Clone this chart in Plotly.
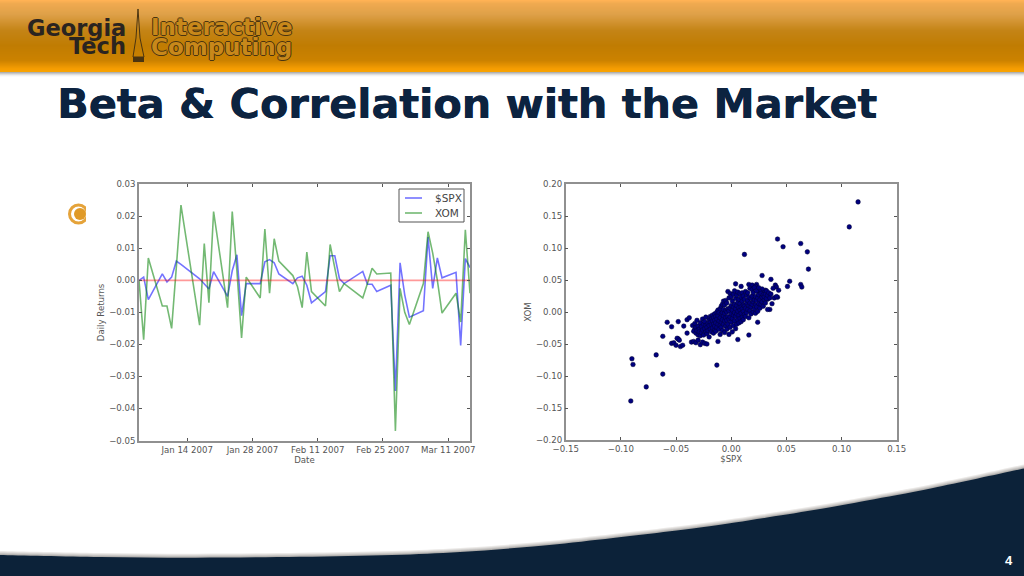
import plotly.graph_objects as go

# ---- line chart data ----
DATES = ["01-03","01-04","01-05","01-08","01-09","01-10","01-11","01-12","01-16","01-17",
         "01-18","01-19","01-22","01-23","01-24","01-25","01-26","01-29","01-30","01-31",
         "02-01","02-02","02-05","02-06","02-07","02-08","02-09","02-12","02-13","02-14",
         "02-15","02-16","02-20","02-21","02-22","02-23","02-26","02-27","02-28","03-01",
         "03-02","03-05","03-06","03-07","03-08","03-09","03-12","03-13","03-14","03-15"]
SPX = [0.0,0.001,-0.006,0.002,-0.0005,0.001,0.006,0.005,0.0005,-0.001,
       -0.0027,0.0027,-0.005,0.003,0.008,-0.011,-0.001,-0.001,0.0058,0.0065,
       0.0055,0.002,-0.001,0.0008,0.0013,-0.0015,-0.007,-0.0035,0.0077,0.0077,
       0.0005,-0.001,0.0028,-0.0012,-0.0012,-0.0035,-0.0015,-0.0345,0.0055,-0.0045,
       -0.0115,-0.0095,0.0135,-0.0025,0.007,0.0008,0.0025,-0.0203,0.0068,0.004]
XOM = [0.0,-0.0185,0.007,-0.008,-0.008,-0.015,0.004,0.0235,-0.014,0.0115,
       -0.007,0.0215,-0.0085,0.0215,0.003,-0.018,0.001,-0.0055,0.016,-0.004,
       0.013,0.006,0.0015,-0.002,-0.0085,0.0088,-0.0035,-0.008,0.0112,0.0035,
       -0.0035,-0.001,-0.0055,-0.001,0.0038,0.002,0.0023,-0.047,-0.0025,-0.01,
       -0.0138,-0.001,0.0152,0.0085,0.0,-0.0102,-0.004,-0.013,0.0158,-0.004]
ZERO = [0.0, 0.0]
DATE_TICKS = ["2007-01-14","2007-01-28","2007-02-11","2007-02-25","2007-03-11"]
DATE_LABELS = ["Jan 14 2007","Jan 28 2007","Feb 11 2007","Feb 25 2007","Mar 11 2007"]
LINE_YTICKS = [0.03,0.02,0.01,0.0,-0.01,-0.02,-0.03,-0.04,-0.05]

# ---- scatter data ----
SCATTER_SPX = [
 .115,.107,.042,.047,.063,.069,.070,.012,.053,.051,.063,.064,
 .028,.036,.004,.009,.016,.019,.023,.022,.040,.041,.038,.043,
 .042,.039,.041,.037,.035,.033,.031,.030,.033,.028,.026,.025,
 -.091,-.077,-.090,-.089,-.068,-.062,-.013,-.062,-.058,-.054,-.048,-.043,
 -.040,-.038,-.054,-.052,-.050,-.048,-.046,-.044,-.049,-.047,-.040,-.036,
 .006,.016,.024,-.034,-.032,-.030,-.028,-.026,-.024,-.022,-.035,-.033,
 -.034,-.033,-.032,-.032,-.031,-.031,-.030,-.030,-.029,-.029,-.028,-.028,
 -.027,-.027,-.026,-.026,-.025,-.025,-.024,-.024,-.023,-.023,-.023,-.022,
 -.022,-.021,-.021,-.020,-.020,-.020,-.019,-.019,-.019,-.018,-.018,-.018,
 -.017,-.017,-.017,-.016,-.016,-.016,-.015,-.015,-.015,-.015,-.014,-.014,
 -.014,-.013,-.013,-.013,-.012,-.012,-.012,-.012,-.011,-.011,-.011,-.010,
 -.010,-.010,-.010,-.009,-.009,-.009,-.009,-.008,-.008,-.008,-.008,-.007,
 -.007,-.007,-.007,-.006,-.006,-.006,-.006,-.005,-.005,-.005,-.005,-.004,
 -.004,-.004,-.004,-.003,-.003,-.003,-.003,-.002,-.002,-.002,-.002,-.001,
 -.001,-.001,-.001,.000,.000,.000,.000,.001,.001,.001,.001,.002,
 .002,.002,.002,.003,.003,.003,.003,.004,.004,.004,.004,.005,
 .005,.005,.005,.006,.006,.006,.006,.007,.007,.007,.007,.008,
 .008,.008,.008,.009,.009,.009,.009,.010,.010,.010,.010,.011,
 .011,.011,.011,.012,.012,.012,.013,.013,.013,.014,.014,.014,
 .015,.015,.015,.016,.016,.016,.017,.017,.017,.018,.018,.018,
 .019,.019,.019,.020,.020,.020,.021,.021,.021,.022,.022,.022,
 .023,.023,.023,.024,.024,.025,.025,.025,.026,.026,.027,.027,
 .028,.028,.029,.029,.030,.030,.031,.031,.032,.032,.033,.034,
 .035,.036]
SCATTER_XOM = [
 .172,.133,.114,.102,.107,.094,.067,.090,.048,.040,.043,.039,
 .057,.051,.044,.040,.043,.042,.043,.040,.042,.039,.037,.034,
 .023,.022,.024,.013,.004,.004,.034,.031,.020,.036,.032,.028,
 -.139,-.117,-.073,-.082,-.067,-.097,-.083,-.038,-.016,-.023,-.015,-.022,
 -.012,-.009,-.049,-.048,-.052,-.042,-.054,-.052,-.041,-.044,-.033,-.047,
 -.043,-.036,-.016,-.046,-.048,-.044,-.051,-.047,-.049,-.050,-.021,-.027,
 -.030,-.018,-.033,-.024,-.029,-.013,-.036,-.022,-.027,-.031,-.017,-.037,
 -.023,-.032,-.011,-.028,-.036,-.019,-.026,-.015,-.031,-.008,-.021,-.034,
 -.024,-.018,-.029,-.012,-.021,-.039,-.027,-.007,-.016,-.031,-.020,-.011,
 -.025,-.014,-.005,-.033,-.019,-.009,-.028,-.013,-.003,-.022,-.017,-.007,
 -.030,-.024,-.011,.000,-.046,-.019,-.006,.003,-.027,-.014,-.001,-.021,
 -.009,.005,-.035,-.016,-.003,.009,-.024,-.012,-.029,-.001,.012,-.019,
 -.006,.004,.017,-.032,-.014,-.002,.011,-.022,-.009,.002,.018,-.027,
 -.013,.000,.014,-.019,-.007,.005,.032,-.035,-.011,.002,.022,-.024,
 -.008,.006,.029,-.016,-.003,.010,.024,-.031,-.010,.003,.017,-.021,
 -.005,.008,.028,-.014,-.001,.012,.033,-.026,-.007,.005,.021,-.019,
 -.003,.010,.026,-.012,.001,.015,.031,-.017,-.005,.007,.020,-.010,
 .003,.013,.029,-.015,-.002,.008,.023,-.008,.005,.017,.030,-.012,
 .001,.011,.025,-.004,.009,.020,-.007,.006,.032,-.001,.014,.027,
 .004,.018,.030,-.009,.010,.023,.002,.014,.037,-.003,.008,.021,
 .012,.025,.035,.000,.016,.030,.005,.019,.038,-.002,.011,.024,
 .008,.018,.033,.001,.022,.013,.027,.038,.006,.019,.012,.029,
 .016,.023,.009,.027,.019,.024,.014,.028,.021,.033,.026,.030,
 .022,.028]
SCATTER_XTICKS = [-0.15,-0.10,-0.05,0.0,0.05,0.10,0.15]
SCATTER_YTICKS = [0.20,0.15,0.10,0.05,0.0,-0.05,-0.10,-0.15,-0.20]
LEGEND_LABELS = ["$SPX", "XOM"]

TITLE = "Beta &amp; Correlation with the Market"
PAGE = "4"

W, H = 1024, 576
NAVY = "#0c2239"
PLOTFONT = dict(family="DejaVu Sans", size=8.6, color="#555555")
AXIS = "#909090"
OUTLINE = "#4a3410"
SPX_COLOR = "rgba(0,0,255,0.55)"
XOM_COLOR = "rgba(0,128,0,0.55)"


def px(x):
    return x / W


def py(y):
    return 1 - y / H


def rect(x0, y0, x1, y1, color, layer="below"):
    return dict(type="rect", xref="paper", yref="paper", layer=layer,
                x0=px(x0), x1=px(x1), y0=py(y0), y1=py(y1),
                fillcolor=color, line=dict(width=0))


def pathstr(points, close=True):
    s = "M " + " L ".join("%.5f,%.5f" % (px(a), py(b)) for a, b in points)
    return s + (" Z" if close else "")


def smooth(points):
    """Catmull-Rom through the read points, written as an SVG cubic path."""
    s = "M %.5f,%.5f" % (px(points[0][0]), py(points[0][1]))
    for i in range(len(points) - 1):
        p0 = points[max(i - 1, 0)]
        p1 = points[i]
        p2 = points[i + 1]
        p3 = points[min(i + 2, len(points) - 1)]
        c1 = (p1[0] + (p2[0] - p0[0]) / 6, p1[1] + (p2[1] - p0[1]) / 6)
        c2 = (p2[0] - (p3[0] - p1[0]) / 6, p2[1] - (p3[1] - p1[1]) / 6)
        s += " C %.5f,%.5f %.5f,%.5f %.5f,%.5f" % (px(c1[0]), py(c1[1]), px(c2[0]), py(c2[1]),
                                                   px(p2[0]), py(p2[1]))
    return s


shapes = []
# header gradient, one thin band per row
STOPS = [(0, (255, 178, 84)), (3, (240, 170, 80)), (14, (222, 160, 72)), (30, (196, 132, 22)),
         (45, (192, 124, 2)), (60, (204, 130, 0)), (68, (244, 156, 2)), (72, (250, 165, 0))]
for i in range(72):
    for (a, ca), (b, cb) in zip(STOPS, STOPS[1:]):
        if a <= i < b:
            t = (i - a) / (b - a)
            c = tuple(round(u + (v - u) * t) for u, v in zip(ca, cb))
            shapes.append(rect(0, i, W, i + 1, "rgb(%d,%d,%d)" % c))
for i, g in enumerate([176, 200, 222, 240, 250]):
    shapes.append(rect(0, 72 + i, W, 73 + i, "rgb(%d,%d,%d)" % (g, g, g)))

# logo spire
shapes.append(dict(type="path", xref="paper", yref="paper", layer="below",
                   path=pathstr([(138, 9), (140, 38), (144, 57), (133, 57), (136, 38)]),
                   fillcolor="rgba(0,0,0,0)", line=dict(color=OUTLINE, width=1)))
shapes.append(rect(133, 57, 144, 62, OUTLINE))

# footer swoosh
CURVE_PTS = [(0, 555), (100, 557), (196, 557.7), (300, 556.8), (392, 555), (460, 552),
             (533, 546.5), (600, 539.5), (700, 527.5), (767, 517.5), (820, 509), (867, 500.5),
             (933, 488), (1024, 468.5)]
for off, g in [(-4, 236), (-3, 218), (-2, 198), (-1, 176), (0, None)]:
    pts = [(a, b + off) for a, b in CURVE_PTS]
    color = NAVY if g is None else "rgb(%d,%d,%d)" % (g, g - 2, g - 4)
    path = smooth(pts) + " L %.5f,%.5f L %.5f,%.5f Z" % (px(1024), py(580), px(0), py(580))
    shapes.append(dict(type="path", xref="paper", yref="paper", layer="below",
                       path=path, fillcolor=color, line=dict(width=0)))

# bullet, cut off by the pasted picture
shapes.append(dict(type="circle", xref="paper", yref="paper", layer="below",
                   x0=px(69.5), x1=px(87.5), y0=py(223), y1=py(205),
                   fillcolor="rgba(0,0,0,0)", line=dict(color="#e5a33a", width=3)))
shapes.append(dict(type="circle", xref="paper", yref="paper", layer="below",
                   x0=px(74), x1=px(86), y0=py(220), y1=py(208),
                   fillcolor="#e09a28", line=dict(width=0)))
shapes.append(rect(86, 190, 100, 240, "white"))

# legend box of the left plot
shapes.append(dict(type="rect", xref="paper", yref="paper", layer="above",
                   x0=px(399), x1=px(464), y0=py(222), y1=py(189),
                   fillcolor="white", line=dict(color="#555555", width=1)))
for yy, col in [(198, SPX_COLOR), (213, XOM_COLOR)]:
    shapes.append(dict(type="line", xref="paper", yref="paper", layer="above",
                       x0=px(405), x1=px(422), y0=py(yy), y1=py(yy),
                       line=dict(color=col, width=1.6)))

fig = go.Figure()
full_dates = ["2007-%s 16:00" % d for d in DATES]
fig.add_trace(go.Scatter(x=full_dates, y=SPX, name="$SPX", mode="lines",
                         line=dict(color=SPX_COLOR, width=1.6), xaxis="x", yaxis="y"))
fig.add_trace(go.Scatter(x=full_dates, y=XOM, name="XOM", mode="lines",
                         line=dict(color=XOM_COLOR, width=1.6), xaxis="x", yaxis="y"))
fig.add_trace(go.Scatter(x=[full_dates[0], full_dates[-1]], y=ZERO, mode="lines",
                         line=dict(color="rgba(255,0,0,0.4)", width=1.6), xaxis="x", yaxis="y"))
fig.add_trace(go.Scatter(x=SCATTER_SPX, y=SCATTER_XOM, mode="markers",
                         marker=dict(color="#00007f", size=4.6, line=dict(color="#000033", width=0.5)),
                         xaxis="x2", yaxis="y2"))

common = dict(showgrid=False, zeroline=False, ticks="inside", ticklen=3, tickcolor="#555555",
              mirror="allticks", showline=True, linecolor=AXIS, linewidth=1.5, automargin=False,
              tickfont=PLOTFONT, title_font=dict(family="DejaVu Sans", size=8.6, color="#555555"))

OUTLINED = "1px 0 0 #4a3410, -1px 0 0 #4a3410, 0 1px 0 #4a3410, 0 -1px 0 #4a3410"
annotations = [
    dict(text="<b>%s</b>" % TITLE, xref="paper", yref="paper", x=px(57), y=py(104),
         xanchor="left", yanchor="middle", showarrow=False, xshift=-2,
         font=dict(family="DejaVu Sans", size=41.4, color="#0c2340",
                   shadow="0.6px 0 0 #0c2340")),
    dict(text="<b>Georgia</b>", xref="paper", yref="paper", x=px(128), y=py(28),
         xanchor="right", yanchor="middle", showarrow=False,
         font=dict(family="DejaVu Sans", size=22.5, color="#2a2420")),
    dict(text="<b>Tech</b>", xref="paper", yref="paper", x=px(128), y=py(46),
         xanchor="right", yanchor="middle", showarrow=False,
         font=dict(family="DejaVu Sans", size=22.5, color="#2a2420")),
    dict(text="<b>Interactive</b>", xref="paper", yref="paper", x=px(149), y=py(27),
         xanchor="left", yanchor="middle", showarrow=False,
         font=dict(family="DejaVu Sans", size=23, color="#c8881a", shadow=OUTLINED)),
    dict(text="<b>Computing</b>", xref="paper", yref="paper", x=px(149), y=py(47),
         xanchor="left", yanchor="middle", showarrow=False,
         font=dict(family="DejaVu Sans", size=23, color="#c8881a", shadow=OUTLINED)),
    dict(text="<b>%s</b>" % PAGE, xref="paper", yref="paper", x=px(1009), y=py(560),
         xanchor="center", yanchor="middle", showarrow=False,
         font=dict(family="Liberation Sans", size=13, color="white")),
]
for yy, label in zip([198, 213], LEGEND_LABELS):
    annotations.append(dict(text=label, xref="paper", yref="paper", x=px(433), y=py(yy),
                            xanchor="left", yanchor="middle", showarrow=False,
                            font=dict(family="DejaVu Sans", size=10.5, color="#444444")))

fig.update_layout(
    width=W, height=H, autosize=False, margin=dict(l=0, r=0, t=0, b=0), showlegend=False,
    paper_bgcolor="white", plot_bgcolor="white", shapes=shapes, annotations=annotations,
    xaxis=dict(domain=[px(139), px(470)], anchor="y", type="date",
               range=[full_dates[0], full_dates[-1]], tickvals=DATE_TICKS, ticktext=DATE_LABELS,
               title=dict(text="Date", standoff=3), **common),
    yaxis=dict(domain=[py(440.5), py(184.3)], anchor="x", range=[-0.05, 0.03],
               tickvals=LINE_YTICKS, tickformat=".2f",
               title=dict(text="Daily Returns", standoff=3), **common),
    xaxis2=dict(domain=[px(565.7), px(896.7)], anchor="y2", range=[-0.15, 0.15],
                tickvals=SCATTER_XTICKS, tickformat=".2f",
                title=dict(text="$SPX", standoff=2), **common),
    yaxis2=dict(domain=[py(440), py(184)], anchor="x2", range=[-0.2, 0.2],
                tickvals=SCATTER_YTICKS, tickformat=".2f",
                title=dict(text="XOM", standoff=3), **common),
)

fig.write_html("out.html", config=dict(displayModeBar=False, responsive=False),
               post_script="document.body.style.margin='0';")
